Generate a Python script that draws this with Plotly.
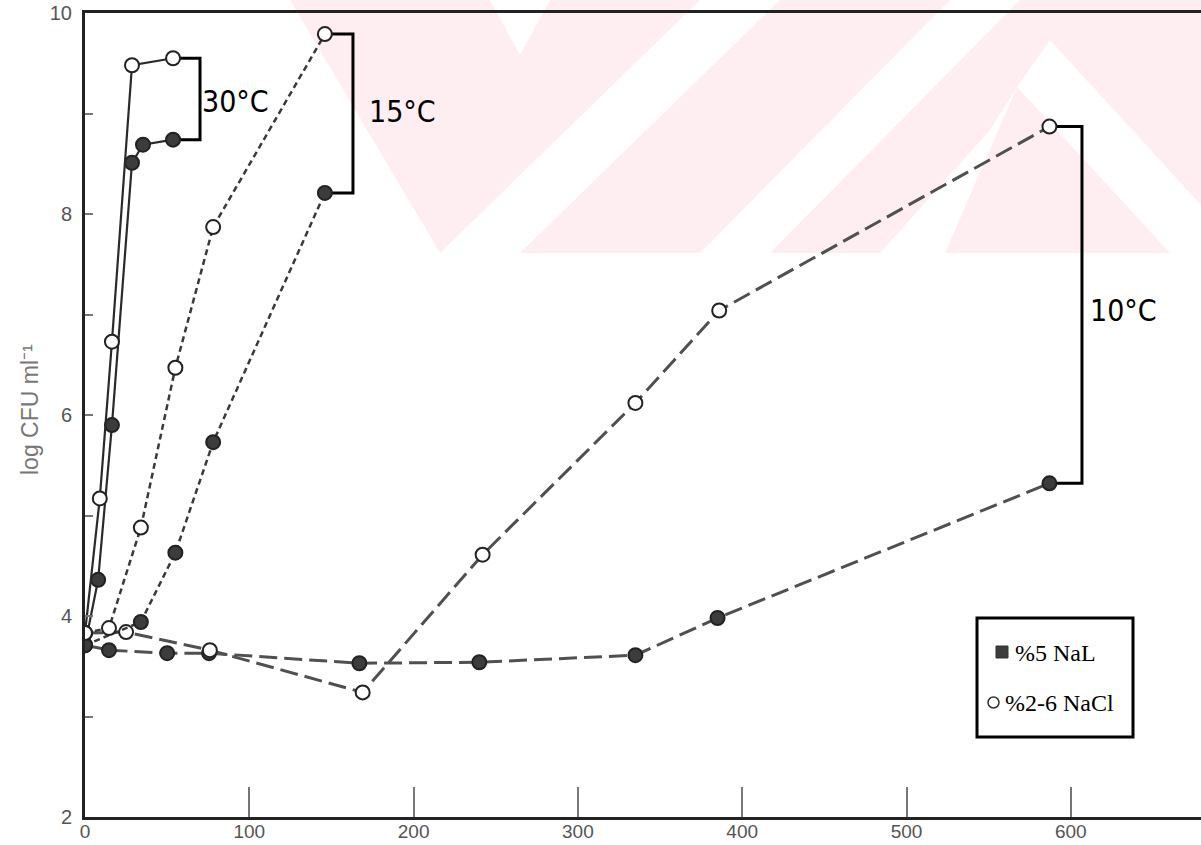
import plotly.graph_objects as go

# ---------------- data (time in hours, log CFU/ml) ----------------
t30_nacl = [0, 9, 16.4, 28.6, 53.6]
y30_nacl = [3.83, 5.17, 6.73, 9.48, 9.55]
t30_nal = [0, 8, 16.4, 28.6, 35.3, 53.6]
y30_nal = [3.71, 4.36, 5.90, 8.51, 8.69, 8.74]

t15_nacl = [0, 14.6, 34, 55, 78, 146]
y15_nacl = [3.83, 3.88, 4.88, 6.47, 7.87, 9.79]
t15_nal = [0, 34, 55, 78, 146]
y15_nal = [3.71, 3.94, 4.63, 5.73, 8.21]

t10_nacl = [0, 25, 76, 169, 242, 335, 386, 587]
y10_nacl = [3.83, 3.84, 3.66, 3.24, 4.61, 6.12, 7.04, 8.87]
t10_nal = [0, 14.6, 50, 75.5, 167, 240, 335, 385, 587]
y10_nal = [3.71, 3.66, 3.63, 3.63, 3.53, 3.54, 3.61, 3.98, 5.32]

temp_labels = ["30°C", "15°C", "10°C"]
legend_labels = ["%5 NaL", "%2-6 NaCl"]
x_ticks = [0, 100, 200, 300, 400, 500, 600]
y_ticks = [2, 3, 4, 5, 6, 7, 8, 9, 10]
y_title = "log CFU ml⁻¹"

# ---------------- layout geometry ----------------
W, H = 1201, 845
ML, MR, MT, MB = 85, 0, 13, 28
PW, PH = W - ML - MR, H - MT - MB
X_MAX = PW / 1.643


def px(p):  # pixel -> paper
    return (p - ML) / PW


def py(p):
    return (H - MB - p) / PH


FILL = "#3c3c3c"

fig = go.Figure()


def add_series(t, y, filled, dash, color, width):
    fig.add_trace(go.Scatter(
        x=t, y=y, mode="lines+markers", showlegend=False,
        line=dict(color=color, width=width, dash=dash),
        marker=dict(symbol="circle", size=14,
                    color=FILL if filled else "white",
                    line=dict(color="#222", width=2)),
    ))


# 10 C : long dashes
add_series(t10_nal, y10_nal, True, "18px,7px", "#505050", 3)
add_series(t10_nacl, y10_nacl, False, "18px,7px", "#505050", 3)
# 15 C : short dashes
add_series(t15_nal, y15_nal, True, "6px,4px", "#3a3a3a", 2.5)
add_series(t15_nacl, y15_nacl, False, "6px,4px", "#3a3a3a", 2.5)
# 30 C : solid
add_series(t30_nal, y30_nal, True, "solid", "#2a2a2a", 2.2)
add_series(t30_nacl, y30_nacl, False, "solid", "#2a2a2a", 2.2)

shapes = []
PINK = "#feeef1"


def poly(points, color):
    d = "M " + " L ".join(f"{px(a):.5f},{py(b):.5f}" for a, b in points) + " Z"
    return dict(type="path", xref="paper", yref="paper", path=d,
                fillcolor=color, line=dict(width=0), layer="below")


# pale watermark in the top band
shapes.append(poly([(232, 0), (1201, 0), (1201, 253), (232, 253)], PINK))
shapes.append(poly([(232, 0), (290, 0), (440, 253), (232, 253)], "white"))
shapes.append(poly([(490, 0), (550, 0), (520, 55)], "white"))
shapes.append(poly([(440, 253), (520, 253), (780, 0), (700, 0)], "white"))
shapes.append(poly([(700, 253), (770, 253), (1020, 0), (950, 0)], "white"))
shapes.append(poly([(1017, 87), (1050, 40), (1201, 205), (1201, 253), (1170, 253)], "white"))
shapes.append(poly([(1017, 87), (990, 130), (880, 253), (945, 253)], "white"))


def bracket(x_open, y_open, x_fill, y_fill, off):
    xb = max(x_open, x_fill) + off
    return dict(type="path", xref="x", yref="y", layer="below",
                path=f"M {x_open},{y_open} L {xb},{y_open} L {xb},{y_fill} L {x_fill},{y_fill}",
                line=dict(color="black", width=3))


shapes.append(bracket(t30_nacl[-1], y30_nacl[-1], t30_nal[-1], y30_nal[-1], 16.4))
shapes.append(bracket(t15_nacl[-1], y15_nacl[-1], t15_nal[-1], y15_nal[-1], 17.1))
shapes.append(bracket(t10_nacl[-1], y10_nacl[-1], t10_nal[-1], y10_nal[-1], 19.8))

# legend box drawn by hand
shapes.append(dict(type="rect", xref="paper", yref="paper",
                   x0=px(977), x1=px(1133), y0=py(737), y1=py(618),
                   line=dict(color="black", width=3), fillcolor="white", layer="below"))
shapes.append(dict(type="rect", xref="paper", yref="paper",
                   x0=px(996), x1=px(1008), y0=py(658), y1=py(646),
                   line=dict(color="#333", width=1), fillcolor=FILL))
shapes.append(dict(type="circle", xref="paper", yref="paper",
                   x0=px(988), x1=px(999), y0=py(708), y1=py(697),
                   line=dict(color="#333", width=1.5), fillcolor="white"))

annotations = []
TFONT = dict(family="Liberation Sans Narrow, DejaVu Sans Condensed, Roboto, sans-serif",
             size=30, color="black")
annotations.append(dict(x=t30_nal[-1] + 37.7, y=9.12, xref="x", yref="y", text=temp_labels[0],
                        showarrow=False, font=TFONT, xanchor="center", yanchor="middle"))
annotations.append(dict(x=t15_nal[-1] + 47.5, y=9.02, xref="x", yref="y", text=temp_labels[1],
                        showarrow=False, font=TFONT, xanchor="center", yanchor="middle"))
annotations.append(dict(x=t10_nal[-1] + 44.8, y=7.04, xref="x", yref="y", text=temp_labels[2],
                        showarrow=False, font=TFONT, xanchor="center", yanchor="middle"))

LFONT = dict(family="Liberation Serif, DejaVu Serif, serif", size=24, color="black")
annotations.append(dict(x=px(1013), y=py(653), xref="paper", yref="paper", text=legend_labels[0],
                        showarrow=False, font=LFONT, xanchor="left", yanchor="middle"))
annotations.append(dict(x=px(1003), y=py(703), xref="paper", yref="paper", text=legend_labels[1],
                        showarrow=False, font=LFONT, xanchor="left", yanchor="middle"))
annotations.append(dict(x=px(30), y=py(410), xref="paper", yref="paper", text=y_title,
                        showarrow=False, textangle=-90,
                        font=dict(family="Liberation Sans, Arial, sans-serif", size=23, color="#777"),
                        xanchor="center", yanchor="middle"))

AXFONT = dict(family="Liberation Sans, Arial, sans-serif", size=20, color="#555")

fig.update_layout(
    width=W, height=H,
    margin=dict(l=ML, r=MR, t=MT, b=MB, autoexpand=False),
    paper_bgcolor="white", plot_bgcolor="rgba(0,0,0,0)",
    showlegend=False,
    shapes=shapes, annotations=annotations,
    xaxis=dict(range=[0, X_MAX], tickvals=x_ticks, ticktext=[str(v) for v in x_ticks],
               ticks="inside", ticklen=30, tickwidth=2, tickcolor="#777",
               showline=True, linecolor="#222", linewidth=3, mirror=True,
               showgrid=False, zeroline=False, ticklabelstandoff=-5,
               tickfont=dict(family="Liberation Sans, Arial, sans-serif", size=19, color="#555")),
    yaxis=dict(range=[2, 10], tickvals=y_ticks,
               ticktext=[str(v) if v % 2 == 0 else "" for v in y_ticks],
               ticks="inside", ticklen=8, tickwidth=2, tickcolor="#777",
               showline=True, linecolor="#222", linewidth=3, ticklabelstandoff=6,
               showgrid=False, zeroline=False, tickfont=AXFONT),
)

fig.write_html("out.html", post_script="document.body.style.margin='0';",
               config={"displayModeBar": False})
